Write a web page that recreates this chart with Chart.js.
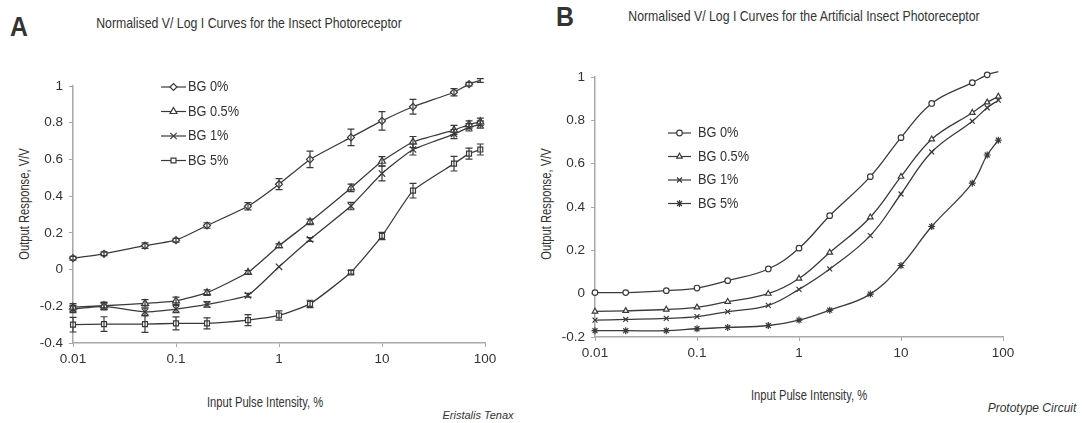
<!DOCTYPE html>
<html>
<head>
<meta charset="utf-8">
<script src="https://cdn.jsdelivr.net/npm/chart.js@4/dist/chart.umd.min.js"></script>
<style>
  html, body { margin: 0; padding: 0; background: #fff; }
  #wrap { position: relative; width: 1085px; height: 423px; overflow: hidden; background: #fff;
          font-family: 'Liberation Sans', Arial, sans-serif; color: #333; }
  .t { position: absolute; white-space: nowrap; line-height: 1; }
  canvas { position: absolute; }
</style>
</head>
<body>
<div id="wrap">
  <div class="t" style="left:10px;top:12px;font:bold 27px 'Liberation Sans',Arial,sans-serif;color:#333;transform:scaleX(0.92);transform-origin:left;">A</div>
  <div class="t" style="left:556px;top:2px;font:bold 27px 'Liberation Sans',Arial,sans-serif;color:#333;transform:scaleX(0.92);transform-origin:left;">B</div>
  <div class="t" style="left:249px;top:22px;font-size:15px;transform:translate(-50%,-50%) scaleX(0.82);">Normalised V/ Log I Curves for the Insect Photoreceptor</div>
  <div class="t" style="left:804px;top:15px;font-size:15px;transform:translate(-50%,-50%) scaleX(0.82);">Normalised V/ Log I Curves for the Artificial Insect Photoreceptor</div>
  <div class="t" style="left:24px;top:204px;font-size:14px;transform:translate(-50%,-50%) rotate(-90deg) scaleX(0.8);">Output Response, V/V</div>
  <div class="t" style="left:546px;top:204px;font-size:14px;transform:translate(-50%,-50%) rotate(-90deg) scaleX(0.8);">Output Response, V/V</div>
  <div class="t" style="left:265px;top:402px;font-size:14px;transform:translate(-50%,-50%) scaleX(0.8);">Input Pulse Intensity, %</div>
  <div class="t" style="left:809px;top:395px;font-size:14px;transform:translate(-50%,-50%) scaleX(0.8);">Input Pulse Intensity, %</div>
  <div class="t" style="left:478px;top:415px;font-size:11px;font-style:italic;transform:translate(-50%,-50%);">Eristalis Tenax</div>
  <div class="t" style="left:1032px;top:408px;font-size:12px;font-style:italic;transform:translate(-50%,-50%);">Prototype Circuit</div>
  <canvas id="cA" width="540" height="423" style="left:0;top:0;width:540px;height:423px;"></canvas>
  <canvas id="cB" width="545" height="423" style="left:540px;top:0;width:545px;height:423px;"></canvas>
</div>
<script>
// ---------- DATA ----------
const intensities = [0.01, 0.02, 0.05, 0.1, 0.2, 0.5, 1, 2, 5, 10, 20, 50, 70, 90];
const seriesNames = ['BG 0%', 'BG 0.5%', 'BG 1%', 'BG 5%'];
const xTicks = [0.01, 0.1, 1, 10, 100];

// Panel A: Insect photoreceptor (Eristalis Tenax)
const insectBG0  = [0.062, 0.086, 0.13, 0.16, 0.24, 0.345, 0.465, 0.60, 0.72, 0.81, 0.887, 0.966, 1.01, 1.03];
const insectBG05 = [-0.205, -0.197, -0.184, -0.17, -0.126, -0.015, 0.13, 0.26, 0.445, 0.59, 0.695, 0.76, 0.79, 0.805];
const insectBG1  = [-0.215, -0.20, -0.23, -0.215, -0.19, -0.14, 0.015, 0.164, 0.346, 0.523, 0.654, 0.738, 0.775, 0.79];
const insectBG5  = [-0.30, -0.297, -0.297, -0.293, -0.293, -0.275, -0.25, -0.187, -0.015, 0.183, 0.43, 0.577, 0.632, 0.654];
const insectErrBG0  = [0.01, 0.01, 0.015, 0.01, 0.015, 0.02, 0.03, 0.045, 0.045, 0.05, 0.04, 0.02, 0.01, 0.01];
const insectErrBG05 = [0.02, 0.02, 0.02, 0.02, 0.015, 0.01, 0.01, 0.015, 0.02, 0.025, 0.03, 0.025, 0.02, 0.02];
const insectErrBG1  = [0.02, 0.02, 0.02, 0.02, 0.015, 0.01, 0.0, 0.01, 0.02, 0.04, 0.03, 0.025, 0.02, 0.02];
const insectErrBG5  = [0.04, 0.04, 0.045, 0.035, 0.03, 0.03, 0.025, 0.02, 0.01, 0.02, 0.04, 0.04, 0.03, 0.03];

// Panel B: Artificial photoreceptor (Prototype Circuit)
const circuitBG0  = [0.005, 0.005, 0.014, 0.026, 0.06, 0.114, 0.21, 0.36, 0.54, 0.72, 0.878, 0.974, 1.01, 1.025];
const circuitBG05 = [-0.082, -0.079, -0.073, -0.063, -0.037, 0.0, 0.07, 0.19, 0.353, 0.54, 0.713, 0.835, 0.883, 0.91];
const circuitBG1  = [-0.122, -0.119, -0.114, -0.106, -0.083, -0.054, 0.02, 0.114, 0.268, 0.46, 0.654, 0.796, 0.858, 0.893];
const circuitBG5  = [-0.171, -0.171, -0.171, -0.162, -0.156, -0.147, -0.122, -0.076, -0.002, 0.13, 0.31, 0.51, 0.64, 0.708];

// ---------- STYLE / BUILD ----------
const INK = '#3a3a3a';
const AXIS = '#a8a8a8';
const FONT = "'Liberation Sans', Arial, sans-serif";

function pts(vals) { return intensities.map((x, i) => ({ x: x, y: vals[i] })); }

const errorBarPlugin = {
  id: 'errorBars',
  afterDatasetsDraw(chart) {
    const ctx = chart.ctx;
    const xs = chart.scales.x, ys = chart.scales.y;
    chart.data.datasets.forEach(ds => {
      if (!ds.errors) return;
      ctx.save();
      ctx.strokeStyle = INK;
      ctx.lineWidth = 1.2;
      ds.data.forEach((p, i) => {
        const e = ds.errors[i];
        if (!e) return;
        const px = xs.getPixelForValue(p.x);
        const y1 = ys.getPixelForValue(p.y - e);
        const y2 = ys.getPixelForValue(p.y + e);
        ctx.beginPath();
        ctx.moveTo(px, y1); ctx.lineTo(px, y2);
        ctx.moveTo(px - 3.5, y1); ctx.lineTo(px + 3.5, y1);
        ctx.moveTo(px - 3.5, y2); ctx.lineTo(px + 3.5, y2);
        ctx.stroke();
      });
      ctx.restore();
    });
  }
};

const inlineLegendPlugin = {
  id: 'inlineLegend',
  afterDraw(chart, args, opts) {
    const ctx = chart.ctx;
    ctx.save();
    chart.data.datasets.forEach((ds, i) => {
      const y = opts.y0 + i * opts.dy;
      ctx.strokeStyle = INK;
      ctx.lineWidth = 1.2;
      ctx.beginPath();
      ctx.moveTo(opts.x0, y); ctx.lineTo(opts.x1, y);
      ctx.stroke();
      ctx.fillStyle = ds.pointBackgroundColor;
      ctx.strokeStyle = INK;
      Chart.helpers.drawPoint(ctx, { pointStyle: ds.pointStyle, radius: ds.pointRadius, rotation: 0, borderWidth: 1.2 },
        (opts.x0 + opts.x1) / 2, y);
      ctx.save();
      ctx.translate(opts.tx, y);
      ctx.scale(0.88, 1);
      ctx.fillStyle = '#333';
      ctx.font = opts.fontSize + 'px ' + FONT;
      ctx.textBaseline = 'middle';
      ctx.textAlign = 'left';
      ctx.fillText(seriesNames[i], 0, 0);
      ctx.restore();
    });
    ctx.restore();
  }
};

function makeDataset(vals, style, radius, fill, tension, errs) {
  return {
    data: pts(vals),
    borderColor: INK,
    borderWidth: 1.3,
    pointStyle: style,
    pointRadius: radius,
    pointBorderWidth: 1.2,
    pointBorderColor: INK,
    pointBackgroundColor: fill,
    tension: tension,
    clip: false,
    errors: errs || null
  };
}

function makeOptions(cfg) {
  return {
    responsive: false,
    animation: false,
    layout: { padding: cfg.padding },
    plugins: {
      legend: { display: false },
      tooltip: { enabled: false },
      inlineLegend: cfg.legend
    },
    scales: {
      x: {
        type: 'logarithmic',
        min: 0.01, max: 100,
        afterBuildTicks: (s) => { s.ticks = xTicks.map(v => ({ value: v })); },
        afterFit: (s) => { s.height = 30; },
        ticks: {
          color: '#333', font: { family: FONT, size: 13.5 }, padding: 4, maxRotation: 0,
          callback: (v) => String(v)
        },
        grid: { display: true, drawOnChartArea: false, drawTicks: true, tickLength: 4, color: AXIS },
        border: { display: true, color: AXIS, width: 1.5 }
      },
      y: {
        min: cfg.ymin, max: 1,
        afterFit: (s) => { s.width = cfg.yWidth; },
        ticks: {
          stepSize: 0.2, color: '#333', font: { family: FONT, size: 13.5 }, padding: 6,
          callback: (v) => String(Math.round(v * 10) / 10)
        },
        grid: { display: true, drawOnChartArea: false, drawTicks: true, tickLength: 4, color: AXIS },
        border: { display: true, color: AXIS, width: 1.5 }
      }
    }
  };
}

new Chart(document.getElementById('cA'), {
  type: 'line',
  data: {
    datasets: [
      makeDataset(insectBG0, 'rectRot', 3.5, '#fff', 0.15, insectErrBG0),
      makeDataset(insectBG05, 'triangle', 4, '#fff', 0.15, insectErrBG05),
      makeDataset(insectBG1, 'crossRot', 4.5, '#fff', 0.15, insectErrBG1),
      makeDataset(insectBG5, 'rect', 3.5, '#fff', 0.15, insectErrBG5)
    ]
  },
  options: makeOptions({
    padding: { left: 0, top: 86, right: 55, bottom: 50 },
    ymin: -0.4, yWidth: 73,
    legend: { x0: 161, x1: 186, tx: 188, y0: 87, dy: 24.5, fontSize: 14.5 }
  }),
  plugins: [errorBarPlugin, inlineLegendPlugin]
});

new Chart(document.getElementById('cB'), {
  type: 'line',
  data: {
    datasets: [
      makeDataset(circuitBG0, 'circle', 2.8, '#fff', 0.4),
      makeDataset(circuitBG05, 'triangle', 3.2, '#fff', 0.4),
      makeDataset(circuitBG1, 'crossRot', 3.5, '#fff', 0.4),
      makeDataset(circuitBG5, 'star', 3.5, INK, 0.4)
    ]
  },
  options: makeOptions({
    padding: { left: 0, top: 77, right: 82, bottom: 56 },
    ymin: -0.2, yWidth: 55,
    legend: { x0: 128, x1: 151, tx: 158, y0: 133, dy: 23.5, fontSize: 14.5 }
  }),
  plugins: [inlineLegendPlugin]
});
</script>
</body>
</html>
